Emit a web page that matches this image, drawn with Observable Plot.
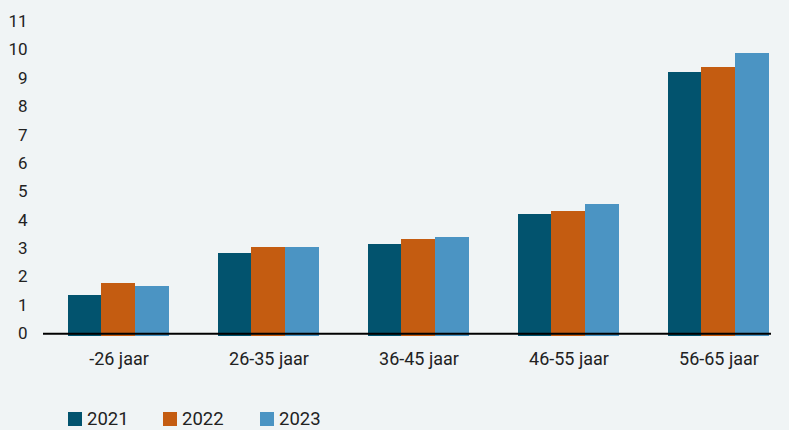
<!DOCTYPE html>
<html>
<head>
<meta charset="utf-8">
<script src="https://cdn.jsdelivr.net/npm/d3@7"></script>
<script src="https://cdn.jsdelivr.net/npm/@observablehq/plot@0.6"></script>
<style>
  html, body { margin: 0; padding: 0; background: #f0f4f5; }
  body { width: 789px; height: 430px; overflow: hidden; font-family: Roboto, "DejaVu Sans", sans-serif; }
  #legend { display: flex; gap: 0; margin-left: 68px; margin-top: 29px; font-size: 18.5px; line-height: 20px; color: #222; }
  #legend .item { display: flex; align-items: center; margin-right: 0; }
  #legend .sw { width: 14px; height: 14px; margin-right: 5px; }
</style>
</head>
<body>
<div id="chart"></div>
<div id="legend"></div>
<script>
const ages = ["-26 jaar", "26-35 jaar", "36-45 jaar", "46-55 jaar", "56-65 jaar"];
const years = ["2021", "2022", "2023"];
const v2021 = [1.35, 2.83, 3.14, 4.20, 9.20];
const v2022 = [1.77, 3.04, 3.32, 4.31, 9.38];
const v2023 = [1.67, 3.04, 3.39, 4.55, 9.87];
const yTicks = [0, 1, 2, 3, 4, 5, 6, 7, 8, 9, 10, 11];
const colors = ["#02536e", "#c45c11", "#4b94c3"];

const series = [v2021, v2022, v2023];
const data = years.flatMap((yr, j) => ages.map((a, i) => ({age: a, year: yr, value: series[j][i]})));

const bandw = 102, third = bandw / 3;
const insets = [
  {insetLeft: 0, insetRight: 2 * third},
  {insetLeft: third - 1, insetRight: third},
  {insetLeft: 2 * third - 1, insetRight: 0}
];

const plot = Plot.plot({
  width: 789,
  height: 380,
  marginLeft: 43,
  marginRight: 18,
  marginTop: 21,
  marginBottom: 46.7,
  style: {background: "#f0f4f5", fontSize: "17px", fontFamily: "Roboto, sans-serif", color: "#222"},
  x: {domain: ages, range: [43, 794], paddingInner: 0.3234, paddingOuter: 0.1526, label: null},
  y: {domain: [0, 11], label: null},
  marks: [
    ...years.map((yr, j) => Plot.barY(data.filter(d => d.year === yr), {
      x: "age", y: "value", fill: colors[j], insetBottom: -2.4, shapeRendering: "crispEdges", ...insets[j]
    })),
    Plot.ruleY([0], {stroke: "#000", strokeWidth: 2}),
    Plot.axisY({ticks: yTicks, tickSize: 0, tickPadding: 16, tickFormat: d => String(d), label: null}),
    Plot.axisX({tickSize: 0, tickPadding: 18, fontSize: 18, label: null})
  ]
});
document.getElementById("chart").appendChild(plot);

const legend = document.getElementById("legend");
const gaps = [95, 97, 0];
years.forEach((yr, j) => {
  const item = document.createElement("div");
  item.className = "item";
  item.style.width = gaps[j] ? gaps[j] + "px" : "auto";
  const sw = document.createElement("span");
  sw.className = "sw";
  sw.style.background = colors[j];
  const t = document.createElement("span");
  t.textContent = yr;
  item.appendChild(sw);
  item.appendChild(t);
  legend.appendChild(item);
});
</script>
</body>
</html>
